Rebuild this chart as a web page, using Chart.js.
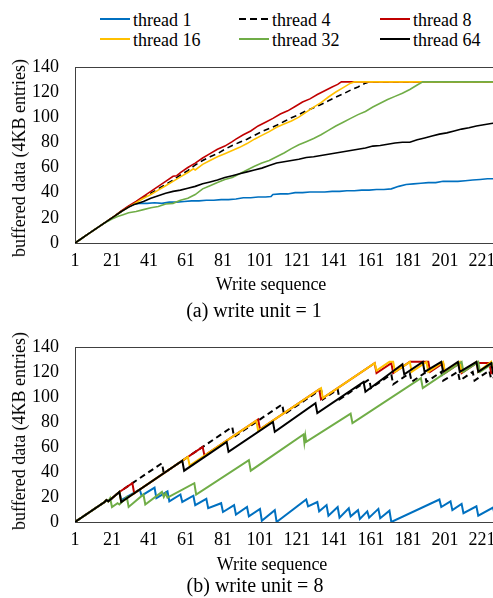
<!DOCTYPE html>
<html>
<head>
<meta charset="utf-8">
<script src="https://cdn.jsdelivr.net/npm/chart.js@4"></script>
<style>
html, body { margin: 0; padding: 0; overflow: hidden; background: #fff; }
body { width: 493px; height: 598px; position: relative; font-family: "Liberation Serif", "Times New Roman", serif; color: #000; }
.box { position: absolute; left: 0; width: 506px; height: 235px; }
#boxA { top: 40px; }
#boxB { top: 320px; }
.txt { position: absolute; white-space: nowrap; font-size: 18px; line-height: 1; transform: translateX(-50%); }
.cap { font-size: 20px; }
.ytitle { position: absolute; white-space: nowrap; font-size: 18px; line-height: 1; transform: translate(-50%, -50%) rotate(-90deg); }
.leg { position: absolute; font-size: 18px; line-height: 1; white-space: nowrap; }
.leg svg { position: absolute; left: 0; }
.leg span { position: absolute; }
</style>
</head>
<body>

<div id="legend"></div>

<div class="box" id="boxA"><canvas id="chartA" width="506" height="235"></canvas></div>
<div class="ytitle" style="left:19px; top:158px;">buffered data (4KB entries)</div>
<div class="txt" style="left:271px; top:275px;">Write sequence</div>
<div class="txt cap" style="left:254px; top:300px;">(a) write unit = 1</div>

<div class="box" id="boxB"><canvas id="chartB" width="506" height="235"></canvas></div>
<div class="ytitle" style="left:19px; top:431px;">buffered data (4KB entries)</div>
<div class="txt" style="left:272px; top:555px;">Write sequence</div>
<div class="txt cap" style="left:255px; top:575px;">(b) write unit = 8</div>

<script>
// series names and colours
const names = ['thread 1', 'thread 4', 'thread 8', 'thread 16', 'thread 32', 'thread 64'];
const colors = ['#0070C0', '#000000', '#C00000', '#FFC000', '#70AD47', '#000000'];

const xTicks = [1, 21, 41, 61, 81, 101, 121, 141, 161, 181, 201, 221];
const yTicks = [0, 20, 40, 60, 80, 100, 120, 140];

// (a) write unit = 1   [write seq, buffered entries]
const a1 = [[1,0],[4,3],[7,6],[10,9],[13,12],[16,15],[19,18],[22,21],[26,25],[30,28.5],[33,31],[36,31.5],[40,31.5],[44,32],[48,31.5],[52,32.5],[56,32.5],[60,33],[64,33.5],[68,33.5],[72,34],[76,34],[80,34.5],[84,34.5],[88,35],[92,36],[96,36],[100,36.5],[104,36.5],[107,37],[108,38.5],[112,39],[116,39],[120,40],[124,40],[128,40.5],[132,40.5],[136,40.5],[140,41],[144,41],[148,41.5],[152,41.5],[156,42],[160,42],[164,42.5],[168,42.5],[172,43],[176,45],[180,46.5],[184,47],[188,47.5],[192,48],[196,48],[200,49],[204,49],[208,49],[212,49.5],[216,50],[220,50.5],[224,51],[228,51],[234,51.5]];
const a4 = [[1,0],[4,3],[7,6],[10,9],[13,12],[16,15],[19,18],[22,21],[26,25],[30,29],[34,32.5],[38,36],[42,39.5],[46,43],[50,46.5],[54,50],[58,54],[62,57.5],[66,62],[70,65.5],[74,68.5],[78,71],[82,74.5],[86,77.5],[90,80],[94,82.5],[98,85.5],[102,88.5],[106,91],[110,93.5],[114,96.5],[118,99.5],[122,102],[126,105],[130,107.5],[134,110],[138,113],[142,116],[146,118.5],[150,121.5],[154,124],[158,127],[160,128],[234,128]];
const a8 = [[1,0],[4,3],[7,6],[10,9],[13,12],[16,15],[19,18],[22,21],[26,25.5],[30,29.5],[34,33],[38,37],[42,41],[46,45],[50,49],[54,53],[56,53.5],[58,56],[62,60],[66,63.5],[70,67.5],[74,71],[78,74.5],[82,77],[86,80.5],[88,82.5],[92,86],[96,89],[100,93],[104,96],[108,99],[112,102.5],[116,105],[120,108.5],[124,112],[128,114.5],[132,118],[136,121],[140,124],[143,126],[145,128],[234,128]];
const a16 = [[1,0],[4,3],[7,6],[10,9],[13,12],[16,15],[19,18],[22,21],[26,25],[30,28.5],[34,32],[38,35.5],[42,38.5],[46,42],[50,45.5],[54,49],[58,52.5],[62,56],[65,59],[66,58],[70,62.5],[74,65.5],[78,68.5],[82,71],[86,73.5],[90,76],[94,79],[98,82.5],[102,85.5],[106,88.5],[110,92],[114,94.5],[118,97],[122,100],[126,104],[130,108],[134,111.5],[138,116],[142,120],[146,123.5],[150,127],[152,128],[234,128]];
const a32 = [[1,0],[4,3],[7,6],[10,9],[13,12],[16,15],[19,17.5],[21,19],[24,21],[27,22.5],[30,24],[34,25],[38,26.5],[42,28],[46,29],[50,31],[54,31.5],[58,34],[62,35.5],[66,38.5],[70,43],[74,45.5],[78,48],[82,50.5],[86,52],[90,55],[94,58],[98,61],[102,63.5],[106,65.5],[110,68.5],[114,71.5],[118,75],[122,78],[126,80.5],[130,83],[134,86],[138,89.5],[142,93],[146,96],[150,99],[154,102],[158,104.5],[162,108],[166,111],[170,114],[174,116.5],[178,119],[182,122],[186,125.5],[189,128],[234,128]];
const a64 = [[1,0],[4,3],[7,6],[10,9],[13,12],[16,15],[19,18],[22,21],[26,25],[30,28.5],[33,30.5],[36,32],[38,33],[42,35.5],[46,37.5],[50,39.5],[54,41],[58,42],[62,43.5],[66,45],[70,47],[74,48.5],[78,50],[82,52],[86,53.5],[90,55],[94,56.5],[98,58],[102,59.5],[106,61.5],[110,63.5],[114,64.5],[118,65.5],[122,66.5],[126,68],[130,68.5],[134,69.5],[138,70.5],[142,71.5],[146,72.5],[150,73.5],[154,74.5],[158,75.5],[162,77],[166,77.5],[170,78.5],[174,79.5],[178,80],[182,80],[186,82],[190,83.5],[194,85],[198,86.5],[202,87.5],[206,89],[210,90.5],[214,91.5],[218,93],[222,94],[226,95],[234,96.5]];

// (b) write unit = 8
const b1 = [[1,0],[5,4],[9,8],[13,12],[17,16],[18,17.5],[19,16.5],[21,19],[25,24],[26,17.5],[36,26],[37,21],[44,27.5],[45,19],[51,24.5],[52,16.5],[58,22],[59,16],[65,21],[66,13.5],[72,18.5],[73,11],[80,15],[81,8],[87,13.5],[88,6],[94,12],[95,4.5],[101,10.5],[102,1],[109,9.5],[110,0],[126,18],[127,12.5],[132,16],[133,8.5],[137,13.5],[138,5],[143,12],[144,3.5],[149,11],[150,4.5],[154,9.5],[155,2.5],[159,8.5],[160,3.5],[165,10.5],[166,3],[171,9],[172,0],[198,18],[199,12],[204,16.5],[205,9.5],[210,14.5],[211,7],[218,12.5],[219,5],[227,11.5],[228,5],[234,10]];
const b4 = [[1,0],[5,4],[9,8],[13,12],[17,16],[18,17.5],[19,16.5],[21,19],[25,24],[48,47],[49,39],[86,76],[87,68],[113,94],[114,86],[134,106],[135,98],[143,106],[144,98],[160,114],[161,107],[172,118],[173,110],[182,119],[183,112],[190,119],[191,112],[199,120],[200,113],[208,120],[209,113],[216,120],[217,113],[225,121],[226,114],[234,121]];
const b8 = [[1,0],[5,4],[9,8],[13,12],[17,16],[18,17.5],[19,16.5],[21,19],[25,24],[32,31],[33,23],[70,60],[71,53],[100,82],[101,74],[133,106],[134,98],[163,127],[164,119],[172,127],[173,119],[182,128],[192,128],[193,120],[200,127],[201,119],[209,127],[210,119],[218,127],[225,127],[226,119],[234,127]];
const b16 = [[1,0],[5,4],[9,8],[13,12],[17,16],[18,17.5],[19,16.5],[21,19],[25,24],[26,16],[62,52],[63,45],[99,81],[100,73],[134,107],[135,99],[163,127],[164,121],[171,128],[173,128],[174,120],[182,128],[183,120],[191,128],[192,120],[200,128],[201,120],[209,128],[210,120],[218,128],[219,120],[226,128],[227,120],[234,127]];
const b32 = [[1,0],[5,4],[9,8],[13,12],[17,16],[18,17.5],[19,16.5],[20,19],[21,12],[24,15],[25,14],[29,20],[30,12],[38,22],[39,14],[48,24],[49,20],[50,23],[51,19.5],[65.5,31],[66.5,22],[95,49.5],[96,41],[124.5,70],[125,63.5],[125.5,69],[126,64],[150,86.5],[151,79],[188,115],[189,107],[210,128],[211,120],[219,128],[220,120],[228,128],[229,120],[234,125]];
const b64 = [[1,0],[5,4],[9,8],[13,12],[17,16],[18,17.5],[19,16.5],[21,19],[25,24],[26,16],[59,49],[60,41],[83,64],[84,56],[108,80],[109,72],[131,95],[132,87],[157,112],[158,104],[178,126],[179,118],[189,128],[190,120],[199,128],[200,120],[208,128],[209,120],[218,128],[219,120],[226,127],[227,119],[234,126]];

Chart.defaults.font.family = '"Liberation Serif", "Times New Roman", serif';
Chart.defaults.font.size = 18;
Chart.defaults.color = '#000';

// plot area frame like the spreadsheet chart
const frame = {
  id: 'frame',
  beforeDatasetsDraw(chart) {
    const { ctx, chartArea: a } = chart;
    ctx.save();
    ctx.strokeStyle = '#404040';
    ctx.lineWidth = 1;
    ctx.strokeRect(Math.round(a.left) + 0.5, Math.round(a.top) + 0.5, a.right - a.left + 5, Math.round(a.bottom - a.top));
    ctx.restore();
  }
};

function makeChart(id, series, lineW, axisH, padTop) {
  return new Chart(document.getElementById(id), {
    type: 'line',
    data: {
      datasets: series.map((d, i) => ({
        label: names[i],
        data: d,
        borderColor: colors[i],
        borderWidth: lineW,
        borderDash: i === 1 ? [6, 4] : [],
        pointRadius: 0,
        tension: 0,
        fill: false,
        order: 6 - i // thread 64 on top
      }))
    },
    options: {
      responsive: false,
      animation: false,
      layout: { padding: { top: padTop, left: 0, right: 0, bottom: 0 } },
      plugins: { legend: { display: false }, tooltip: { enabled: false } },
      scales: {
        x: {
          type: 'linear', min: 1, max: 234,
          grid: { display: false, drawTicks: false },
          border: { display: false },
          afterBuildTicks: s => { s.ticks = xTicks.map(v => ({ value: v })); },
          afterFit: s => { s.height = axisH; },
          ticks: { padding: 7, maxRotation: 0, autoSkip: false }
        },
        y: {
          min: 0, max: 140,
          grid: { display: false, drawTicks: false },
          border: { display: false },
          afterBuildTicks: s => { s.ticks = yTicks.map(v => ({ value: v })); },
          afterFit: s => { s.width = 75; },
          ticks: { padding: 16 }
        }
      }
    },
    plugins: [frame]
  });
}

makeChart('chartA', [a1, a4, a8, a16, a32, a64], 1.6, 32, 12);
makeChart('chartB', [b1, b4, b8, b16, b32, b64], 2, 33, 13);

// legend, three columns by two rows
const legX = [100, 239, 380];
const legY = [11, 31];
const leg = document.getElementById('legend');
names.forEach((n, i) => {
  const item = document.createElement('div');
  item.className = 'leg';
  item.style.left = legX[i % 3] + 'px';
  item.style.top = legY[Math.floor(i / 3)] + 'px';
  const dash = i === 1 ? ' stroke-dasharray="7,4"' : '';
  item.innerHTML = '<svg width="30" height="4" style="top:6px"><line x1="0" y1="2" x2="30" y2="2" stroke="' +
    colors[i] + '" stroke-width="2"' + dash + '/></svg><span style="left:33px">' + n + '</span>';
  leg.appendChild(item);
});
</script>
</body>
</html>
